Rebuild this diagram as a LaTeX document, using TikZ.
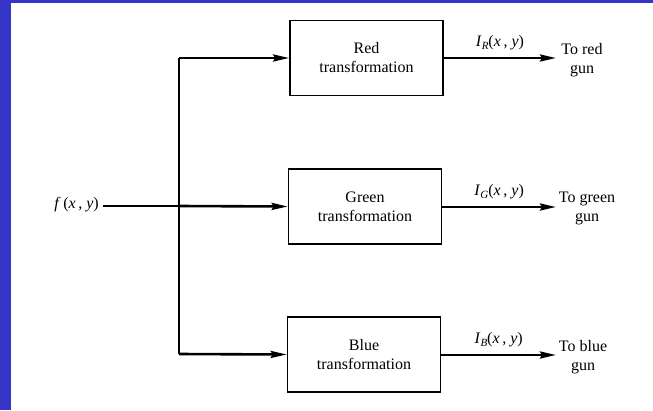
\documentclass[tikz,border=0pt]{standalone}
\usepackage{fontspec}
\setmainfont{Liberation Serif}
\usetikzlibrary{arrows.meta}
\definecolor{frameblue}{HTML}{3535C8}
\begin{document}
\begin{tikzpicture}[x=1pt,y=-1pt,
  blk/.style={draw,line width=1.6pt,minimum width=153pt,minimum height=75pt,align=center,font=\fontsize{16}{19}\selectfont,inner sep=0pt},
  sig/.style={line width=2.6pt,-{Stealth[length=16pt,width=7pt,inset=2pt]}},
  lbl/.style={font=\fontsize{16}{19}\selectfont,align=center,inner sep=0pt},
  wire/.style={line width=2.6pt}]
\fill[white] (0,0) rectangle (653,410);
\fill[frameblue] (0,0) rectangle (653,3);
\fill[frameblue] (0,0) rectangle (11,410);
\useasboundingbox (0,0) rectangle (653,410);

\node[blk] (red) at (366.5,58) {Red\\transformation};
\node[blk] (green) at (365,206.5) {Green\\transformation};
\node[blk] (blue) at (364,354.5) {Blue\\transformation};

\node[lbl,anchor=east] (f) at (99,205) {\textit{f}\,(\textit{x}\,, \textit{y})};
\coordinate (j) at (179,206);
\coordinate (jt) at (179,58);
\coordinate (jb) at (179,354);

\draw[wire] (f.east)+(4,1) -- (j);
\draw[wire] (jt) -- (jb);
\draw[sig] (j) -- (green.west);
\draw[sig] (jt) -- (red.west);
\draw[sig] (jb) -- (blue.west);

\node[lbl] (tr) at (582,60) {To red\\gun};
\node[lbl] (tg) at (587,208) {To green\\gun};
\node[lbl] (tb) at (583,357) {To blue\\gun};

\coordinate (er) at (556,58);
\coordinate (eg) at (556,207);
\coordinate (eb) at (556,355);
\draw[sig] (red.east |- er) -- node[lbl,above=7pt] (ir) {\textit{I}\raisebox{-3pt}{\fontsize{11}{11}\selectfont\textit{R}}(\textit{x}\,, \textit{y})} (er);
\draw[sig] (green.east |- eg) -- node[lbl,above=7pt] (ig) {\textit{I}\raisebox{-3pt}{\fontsize{11}{11}\selectfont\textit{G}}(\textit{x}\,, \textit{y})} (eg);
\draw[sig] (blue.east |- eb) -- node[lbl,above=7pt] (ib) {\textit{I}\raisebox{-3pt}{\fontsize{11}{11}\selectfont\textit{B}}(\textit{x}\,, \textit{y})} (eb);
\end{tikzpicture}
\end{document}
